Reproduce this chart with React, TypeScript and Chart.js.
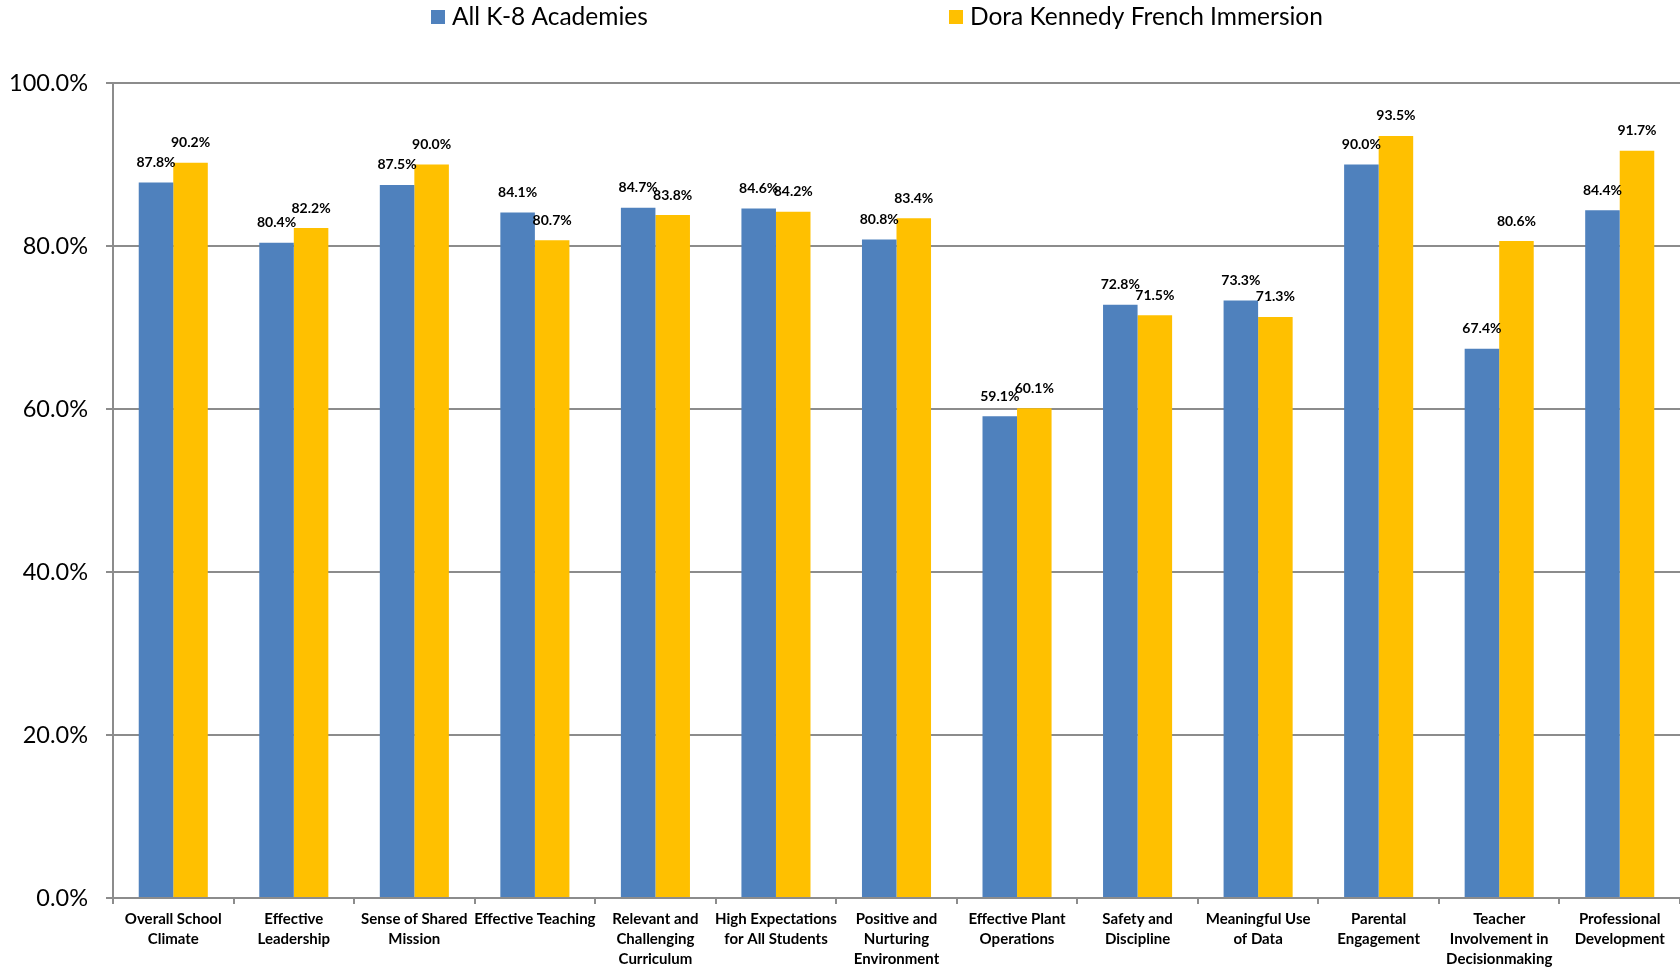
import React, { useEffect, useRef } from "react";
import { Chart, registerables } from "chart.js";

Chart.register(...registerables);

const categories: string[][] = [
  ["Overall School", "Climate"],
  ["Effective", "Leadership"],
  ["Sense of Shared", "Mission"],
  ["Effective Teaching"],
  ["Relevant and", "Challenging", "Curriculum"],
  ["High Expectations", "for All Students"],
  ["Positive and", "Nurturing", "Environment"],
  ["Effective Plant", "Operations"],
  ["Safety and", "Discipline"],
  ["Meaningful Use", "of Data"],
  ["Parental", "Engagement"],
  ["Teacher", "Involvement in", "Decisionmaking"],
  ["Professional", "Development"],
];

const seriesNames = ["All K-8 Academies", "Dora Kennedy French Immersion"];
const allK8 = [87.8, 80.4, 87.5, 84.1, 84.7, 84.6, 80.8, 59.1, 72.8, 73.3, 90.0, 67.4, 84.4];
const doraKennedy = [90.2, 82.2, 90.0, 80.7, 83.8, 84.2, 83.4, 60.1, 71.5, 71.3, 93.5, 80.6, 91.7];
const yTicks = [0, 20, 40, 60, 80, 100];

const BLUE = "#4F81BD";
const YELLOW = "#FFC000";
const GRID = "#8C8C8C";
const FONT = "Lato, 'Open Sans', sans-serif";

const dataLabelPlugin = {
  id: "dataLabels",
  afterDatasetsDraw(chart: any) {
    const ctx = chart.ctx;
    ctx.save();
    ctx.font = `bold 14px ${FONT}`;
    ctx.fillStyle = "#000";
    ctx.textAlign = "center";
    ctx.textBaseline = "middle";
    chart.data.datasets.forEach((ds: any, i: number) => {
      const meta = chart.getDatasetMeta(i);
      meta.data.forEach((bar: any, j: number) => {
        const v = ds.data[j];
        ctx.fillText(v.toFixed(1) + "%", bar.x, bar.y - 20);
      });
    });
    ctx.restore();
  },
};

const legendPlugin = {
  id: "customLegend",
  afterDraw(chart: any) {
    const ctx = chart.ctx;
    const items = [
      { x: 431, color: BLUE },
      { x: 949, color: YELLOW },
    ];
    ctx.save();
    ctx.font = `24.5px ${FONT}`;
    ctx.textBaseline = "middle";
    ctx.textAlign = "left";
    chart.data.datasets.forEach((ds: any, i: number) => {
      const it = items[i];
      ctx.fillStyle = ds.backgroundColor;
      ctx.fillRect(it.x, 10, 14, 14);
      ctx.fillStyle = "#000";
      ctx.fillText(ds.label, it.x + 21, 17);
    });
    ctx.restore();
  },
};

export default function App() {
  const canvasRef = useRef<HTMLCanvasElement>(null);

  useEffect(() => {
    if (!canvasRef.current) return;
    const chart = new Chart(canvasRef.current, {
      type: "bar",
      data: {
        labels: categories,
        datasets: [
          { label: seriesNames[0], data: allK8, backgroundColor: BLUE },
          { label: seriesNames[1], data: doraKennedy, backgroundColor: YELLOW },
        ],
      },
      options: {
        responsive: false,
        animation: false,
        devicePixelRatio: 1,
        layout: { padding: { top: 83, left: 0, right: 0, bottom: 0 } },
        plugins: {
          legend: { display: false },
          tooltip: { enabled: false },
        },
        datasets: {
          bar: { categoryPercentage: 0.573, barPercentage: 1 },
        },
        scales: {
          x: {
            grid: {
              display: true,
              drawOnChartArea: false,
              drawTicks: true,
              tickLength: 6,
              color: GRID,
              lineWidth: 2,
              offset: true,
            },
            border: { display: true, color: GRID, width: 2 },
            ticks: {
              font: { family: FONT, size: 15, weight: "bold", lineHeight: 20 / 15 },
              color: "#000",
              padding: 5,
              maxRotation: 0,
              minRotation: 0,
              autoSkip: false,
            },
            afterFit: (scale: any) => {
              scale.height = 72;
            },
          },
          y: {
            min: 0,
            max: 100,
            afterBuildTicks: (scale: any) => {
              scale.ticks = yTicks.map((v) => ({ value: v }));
            },
            grid: {
              color: GRID,
              lineWidth: 2,
              drawTicks: true,
              tickLength: 7,
            },
            border: { display: true, color: GRID, width: 2 },
            ticks: {
              font: { family: FONT, size: 23.5 },
              color: "#000",
              padding: 18,
              callback: (v: any) => Number(v).toFixed(1) + "%",
            },
            afterFit: (scale: any) => {
              scale.width = 113;
            },
          },
        },
      },
      plugins: [dataLabelPlugin, legendPlugin],
    });
    return () => chart.destroy();
  }, []);

  return (
    <div style={{ position: "fixed", left: 0, top: 0, width: 1680, height: 970, background: "#fff" }}>
      <canvas ref={canvasRef} width={1680} height={970} style={{ width: 1680, height: 970 }} />
    </div>
  );
}
